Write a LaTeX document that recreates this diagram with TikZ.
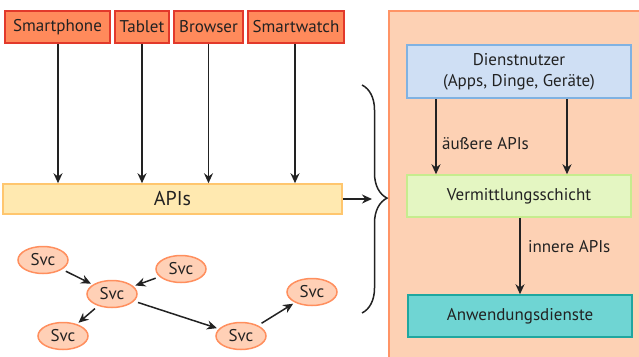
\documentclass[tikz,border=0pt]{standalone}
\usepackage{fontspec}
\setmainfont{PT Sans}
\usetikzlibrary{arrows.meta,shapes.geometric,decorations.pathreplacing}
\definecolor{devfill}{HTML}{FF8A5B}
\definecolor{devdraw}{HTML}{E2392B}
\definecolor{apifill}{HTML}{FFE9B0}
\definecolor{apidraw}{HTML}{FFC66E}
\definecolor{panelfill}{HTML}{FDD1B4}
\definecolor{paneldraw}{HTML}{FF9466}
\definecolor{userfill}{HTML}{CFDFF4}
\definecolor{userdraw}{HTML}{80B2E2}
\definecolor{midfill}{HTML}{E4F6C2}
\definecolor{middraw}{HTML}{C6EC8E}
\definecolor{appfill}{HTML}{6FD5D3}
\definecolor{appdraw}{HTML}{1FA79F}
\definecolor{svcfill}{HTML}{FFD0B6}
\definecolor{svcdraw}{HTML}{FF8F5E}
\definecolor{ink}{HTML}{222222}
\begin{document}
\begin{tikzpicture}[x=1pt,y=-1pt,
  every node/.style={font=\fontsize{17}{19}\selectfont,text=ink},
  devbox/.style={draw=devdraw,fill=devfill,line width=1.5pt,minimum height=32pt,inner sep=0pt},
  layer/.style={line width=1.5pt,minimum width=224pt,inner sep=0pt},
  svc/.style={ellipse,draw=svcdraw,fill=svcfill,line width=1.5pt,minimum width=50pt,minimum height=27pt,inner sep=0pt},
  arr/.style={-{Stealth[length=10pt,width=9pt]},line width=1.5pt,ink},
  sarr/.style={arr,shorten <=4pt,shorten >=2pt}]
\useasboundingbox (0,0) rectangle (639,356);
% right panel
\fill[panelfill] (389,11) rectangle (641,358);
\draw[paneldraw,line width=1.5pt] (641,11) -- (389,11) -- (389,358);
% devices
\node[devbox,minimum width=105pt] (phone) at (57.5,27) {Smartphone};
\node[devbox,minimum width=54pt] (tab) at (142,27) {Tablet};
\node[devbox,minimum width=69pt] (brow) at (208.5,27) {Browser};
\node[devbox,minimum width=96pt] (watch) at (296,27) {Smartwatch};
% APIs
\node[draw=apidraw,fill=apifill,line width=1.5pt,minimum width=339pt,minimum height=30pt,inner sep=0pt,font=\fontsize{20}{22}\selectfont] (apis) at (172.5,199) {APIs};
\draw[arr] (phone.south -| 58,0) -- (apis.north -| 58,0);
\draw[arr] (tab.south) -- (apis.north -| tab.south);
\draw[arr] (brow.south) -- (apis.north -| brow.south);
\draw[arr] (watch.south -| 295,0) -- (apis.north -| 295,0);
% brace
\coordinate (btop) at (362,85);
\coordinate (bbot) at (362,313);
\draw[ink,line width=1.5pt,decorate,decoration={brace,amplitude=25pt,aspect=0.496}] (btop) -- (bbot);
\coordinate (bin) at (372,199);
\draw[arr] (apis.east) -- (bin);
% right layers
\node[layer,draw=userdraw,fill=userfill,minimum height=53pt,align=center] (user) at (519,71.5) {Dienstnutzer\\[2pt](Apps, Dinge, Geräte)};
\node[layer,draw=middraw,fill=midfill,minimum height=42pt] (mid) at (519,196) {Vermittlungsschicht};
\node[layer,draw=appdraw,fill=appfill,minimum height=42pt] (app) at (520,316) {Anwendungsdienste};
\draw[arr] (user.south -| 436,0) -- node[right=2pt,pos=0.6] (ext) {äußere APIs} (mid.north -| 436,0);
\draw[arr] (user.south -| 567,0) -- (mid.north -| 567,0);
\draw[arr] (mid.south -| 520,0) -- node[right=4pt,pos=0.38] (int) {innere APIs} (app.north -| 520,0);
% services
\node[svc] (s1) at (43,260) {Svc};
\node[svc] (s2) at (112,294) {Svc};
\node[svc] (s3) at (181,269) {Svc};
\node[svc] (s4) at (63,336) {Svc};
\node[svc] (s5) at (241,336) {Svc};
\node[svc] (s6) at (312,292) {Svc};
\draw[sarr] (s1) -- (s2);
\draw[sarr] (s3) -- (s2);
\draw[sarr] (s2) -- (s4);
\draw[sarr] (s2) -- (s5);
\draw[sarr] (s5) -- (s6);
\end{tikzpicture}
\end{document}
